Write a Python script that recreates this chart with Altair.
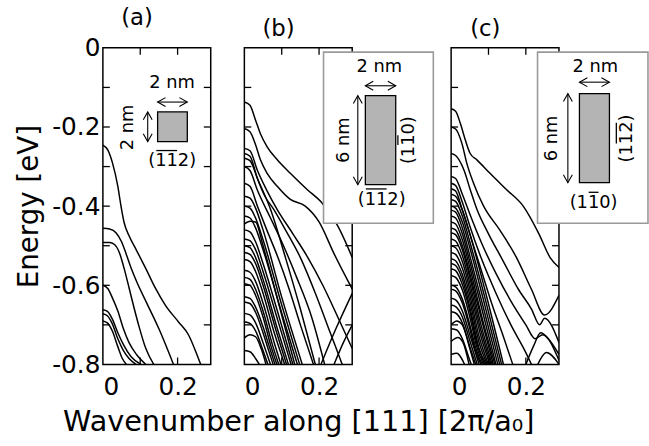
import altair as alt
import pandas as pd

XMAX = 0.2887
W, H = 109, 320
FONT = "DejaVu Sans"
PX = XMAX / W      # data units per pixel, x
PY = 0.8 / H       # data units per pixel, y
TICK = 7

# ---------------- band data (x [2pi/a0], E [eV]) ----------------
bands_a = [
    [(0, -0.246), (0.013, -0.258), (0.026, -0.292), (0.040, -0.35), (0.0485, -0.40), (0.057, -0.442),
     (0.070, -0.475), (0.088, -0.508), (0.115, -0.558), (0.141, -0.608), (0.167, -0.65), (0.202, -0.692),
     (0.229, -0.725), (0.255, -0.783), (0.262, -0.80)],
    [(0, -0.456), (0.018, -0.458), (0.035, -0.467), (0.05, -0.49), (0.062, -0.52), (0.075, -0.555),
     (0.09, -0.59), (0.12, -0.65), (0.15, -0.71), (0.189, -0.80)],
    [(0, -0.492), (0.018, -0.492), (0.031, -0.497), (0.044, -0.517), (0.057, -0.558), (0.0705, -0.608),
     (0.0837, -0.658), (0.097, -0.705), (0.115, -0.76), (0.136, -0.80)],
    [(0, -0.60), (0.013, -0.608), (0.026, -0.633), (0.04, -0.665), (0.055, -0.71), (0.07, -0.745),
     (0.09, -0.775), (0.115, -0.80)],
    [(0, -0.662), (0.012, -0.666), (0.025, -0.685), (0.04, -0.72), (0.055, -0.75), (0.075, -0.78), (0.102, -0.80)],
    [(0, -0.672), (0.012, -0.677), (0.025, -0.697), (0.04, -0.735), (0.055, -0.765), (0.07, -0.785), (0.089, -0.80)],
    [(0, -0.69), (0.012, -0.695), (0.025, -0.715), (0.04, -0.755), (0.052, -0.785), (0.063, -0.80)],
]

bands_b = [
    [(0, -0.137), (0.015, -0.145), (0.03, -0.183), (0.043, -0.217), (0.061, -0.25), (0.088, -0.283),
     (0.123, -0.317), (0.168, -0.358), (0.208, -0.392), (0.25, -0.45), (0.289, -0.53)],
    [(0, -0.204), (0.015, -0.212), (0.03, -0.245), (0.043, -0.283), (0.061, -0.317), (0.088, -0.35),
     (0.123, -0.383), (0.163, -0.40), (0.2, -0.44), (0.24, -0.52), (0.289, -0.61)],
    [(0, -0.254), (0.015, -0.26), (0.035, -0.31), (0.06, -0.36), (0.0876, -0.408), (0.13, -0.47),
     (0.17, -0.53), (0.21, -0.60), (0.25, -0.68), (0.289, -0.76)],
    [(0, -0.267), (0.015, -0.274), (0.035, -0.33), (0.055, -0.375), (0.0786, -0.408), (0.11, -0.46),
     (0.15, -0.53), (0.19, -0.62), (0.23, -0.72), (0.262, -0.80)],
    [(0, -0.279), (0.015, -0.285), (0.035, -0.33), (0.07, -0.408), (0.11, -0.53), (0.15, -0.66), (0.19, -0.80)],
    [(0, -0.30), (0.015, -0.31), (0.035, -0.36), (0.07, -0.43), (0.1, -0.49), (0.14, -0.58), (0.18, -0.68), (0.215, -0.80)],
    [(0, -0.342), (0.015, -0.35), (0.035, -0.40), (0.06, -0.46), (0.09, -0.53), (0.12, -0.61), (0.15, -0.70), (0.185, -0.80)],
    [(0, -0.375), (0.015, -0.38), (0.03, -0.405), (0.05, -0.46), (0.10, -0.63), (0.155, -0.80)],
    [(0, -0.40), (0.015, -0.405), (0.03, -0.43), (0.05, -0.485), (0.10, -0.65), (0.148, -0.80)],
    [(0, -0.425), (0.015, -0.43), (0.03, -0.455), (0.05, -0.51), (0.10, -0.67), (0.142, -0.80)],
    [(0, -0.445), (0.015, -0.438), (0.03, -0.44), (0.05, -0.50), (0.09, -0.64), (0.135, -0.80)],
    [(0, -0.46), (0.015, -0.465), (0.03, -0.49), (0.05, -0.545), (0.09, -0.67), (0.13, -0.80)],
    [(0, -0.483), (0.015, -0.487), (0.03, -0.51), (0.05, -0.565), (0.09, -0.69), (0.125, -0.80)],
    [(0, -0.50), (0.015, -0.505), (0.03, -0.53), (0.05, -0.585), (0.09, -0.715), (0.118, -0.80)],
    [(0, -0.517), (0.015, -0.522), (0.03, -0.545), (0.05, -0.60), (0.085, -0.715), (0.113, -0.80)],
    [(0, -0.535), (0.015, -0.54), (0.03, -0.565), (0.05, -0.62), (0.08, -0.72), (0.108, -0.80)],
    [(0, -0.562), (0.015, -0.567), (0.03, -0.59), (0.05, -0.645), (0.08, -0.745), (0.098, -0.80)],
    [(0, -0.58), (0.015, -0.585), (0.03, -0.61), (0.05, -0.665), (0.075, -0.75), (0.092, -0.80)],
    [(0, -0.596), (0.015, -0.60), (0.03, -0.625), (0.05, -0.68), (0.07, -0.75), (0.087, -0.80)],
    [(0, -0.629), (0.015, -0.633), (0.03, -0.655), (0.05, -0.705), (0.065, -0.75), (0.082, -0.80)],
    [(0, -0.642), (0.015, -0.646), (0.03, -0.668), (0.05, -0.72), (0.065, -0.765), (0.077, -0.80)],
    [(0, -0.671), (0.015, -0.675), (0.03, -0.695), (0.05, -0.745), (0.07, -0.80)],
    [(0, -0.692), (0.015, -0.696), (0.03, -0.715), (0.05, -0.765), (0.063, -0.80)],
    [(0, -0.733), (0.015, -0.725), (0.03, -0.73), (0.045, -0.76), (0.058, -0.80)],
    [(0, -0.765), (0.015, -0.768), (0.03, -0.785), (0.04, -0.80)],
    [(0.205, -0.80), (0.245, -0.71), (0.289, -0.62)],
    [(0.24, -0.80), (0.265, -0.745), (0.289, -0.70)],
]

bands_c = [
    [(0, -0.154), (0.012, -0.16), (0.025, -0.192), (0.038, -0.233), (0.051, -0.267), (0.069, -0.283),
     (0.104, -0.317), (0.148, -0.358), (0.193, -0.40), (0.235, -0.47), (0.265, -0.53), (0.289, -0.555)],
    [(0, -0.20), (0.012, -0.205), (0.029, -0.242), (0.042, -0.292), (0.06, -0.342), (0.087, -0.40),
     (0.13, -0.46), (0.175, -0.53), (0.215, -0.61), (0.25, -0.675), (0.289, -0.625)],
    [(0, -0.267), (0.012, -0.272), (0.034, -0.308), (0.051, -0.358), (0.069, -0.408), (0.10, -0.47),
     (0.14, -0.54), (0.18, -0.61), (0.215, -0.66), (0.237, -0.70), (0.25, -0.683), (0.289, -0.745)],
    [(0, -0.325), (0.012, -0.33), (0.03, -0.37), (0.05, -0.42), (0.08, -0.49), (0.12, -0.57), (0.16, -0.64),
     (0.2, -0.70), (0.225, -0.735), (0.245, -0.725), (0.289, -0.79)],
    [(0, -0.342), (0.012, -0.348), (0.03, -0.39), (0.05, -0.45), (0.08, -0.53), (0.12, -0.62), (0.16, -0.70),
     (0.2, -0.77), (0.215, -0.80)],
    [(0, -0.356), (0.012, -0.362), (0.03, -0.41), (0.05, -0.47), (0.08, -0.56), (0.11, -0.65), (0.14, -0.73),
     (0.165, -0.80)],
    [(0, -0.37), (0.012, -0.375), (0.03, -0.41), (0.05, -0.47), (0.09, -0.61), (0.14, -0.80)],
    [(0, -0.383), (0.012, -0.388), (0.03, -0.425), (0.05, -0.49), (0.09, -0.63), (0.135, -0.80)],
    [(0, -0.40), (0.012, -0.405), (0.03, -0.44), (0.05, -0.505), (0.09, -0.65), (0.13, -0.80)],
    [(0, -0.41), (0.012, -0.415), (0.03, -0.455), (0.05, -0.525), (0.09, -0.67), (0.125, -0.80)],
    [(0, -0.425), (0.012, -0.43), (0.03, -0.47), (0.05, -0.54), (0.085, -0.67), (0.12, -0.80)],
    [(0, -0.44), (0.012, -0.445), (0.03, -0.485), (0.05, -0.555), (0.085, -0.69), (0.117, -0.80)],
    [(0, -0.455), (0.012, -0.46), (0.03, -0.50), (0.05, -0.57), (0.085, -0.70), (0.113, -0.80)],
    [(0, -0.467), (0.012, -0.472), (0.03, -0.51), (0.05, -0.58), (0.08, -0.70), (0.11, -0.80)],
    [(0, -0.483), (0.012, -0.488), (0.03, -0.525), (0.05, -0.595), (0.08, -0.715), (0.107, -0.80)],
    [(0, -0.50), (0.012, -0.505), (0.03, -0.54), (0.05, -0.61), (0.08, -0.73), (0.104, -0.80)],
    [(0, -0.517), (0.012, -0.522), (0.03, -0.557), (0.05, -0.625), (0.075, -0.73), (0.1, -0.80)],
    [(0, -0.533), (0.012, -0.538), (0.03, -0.573), (0.05, -0.64), (0.075, -0.745), (0.097, -0.80)],
    [(0, -0.545), (0.012, -0.55), (0.03, -0.585), (0.05, -0.655), (0.075, -0.76), (0.094, -0.80)],
    [(0, -0.558), (0.012, -0.563), (0.03, -0.598), (0.05, -0.665), (0.07, -0.75), (0.09, -0.80)],
    [(0, -0.575), (0.012, -0.58), (0.03, -0.612), (0.05, -0.68), (0.07, -0.76), (0.087, -0.80)],
    [(0, -0.60), (0.012, -0.604), (0.03, -0.635), (0.05, -0.70), (0.068, -0.765), (0.083, -0.80)],
    [(0, -0.61), (0.012, -0.614), (0.03, -0.645), (0.05, -0.71), (0.065, -0.765), (0.08, -0.80)],
    [(0, -0.633), (0.012, -0.637), (0.03, -0.665), (0.05, -0.725), (0.075, -0.80)],
    [(0, -0.65), (0.012, -0.654), (0.03, -0.68), (0.05, -0.74), (0.07, -0.80)],
    [(0, -0.667), (0.012, -0.67), (0.03, -0.695), (0.05, -0.755), (0.066, -0.80)],
    [(0, -0.70), (0.015, -0.69), (0.03, -0.70), (0.05, -0.76), (0.062, -0.80)],
    [(0, -0.71), (0.015, -0.713), (0.03, -0.735), (0.05, -0.79), (0.054, -0.80)],
    [(0, -0.742), (0.018, -0.732), (0.032, -0.745), (0.048, -0.80)],
    [(0, -0.775), (0.015, -0.772), (0.028, -0.785), (0.036, -0.80)],
    [(0.20, -0.80), (0.22, -0.755), (0.24, -0.72), (0.26, -0.735), (0.289, -0.775)],
    [(0.232, -0.80), (0.255, -0.77), (0.289, -0.80)],
]

# ---------------- axis values ----------------
Y_LABELS = [0, -0.2, -0.4, -0.6, -0.8]
Y_TICKS = [-0.1, -0.2, -0.3, -0.4, -0.5, -0.6, -0.7]
X_LABELS = [0, 0.2]
X_TICKS = [0.1, 0.2]

# ---------------- inset annotations (data units) ----------------
inset_a = dict(
    box=None,
    gray=(0.1465, 0.2260, -0.1618, -0.2368),
    harrow=(0.1465, 0.2260, -0.137),
    varrow=(0.120, -0.1618, -0.2368),
    htext=[(0.1854, -0.089, "2 nm"), (0.1854, -0.287, "(112)")],
    vtext=[(0.0662, -0.2013, "2 nm")],
    hbar=[(0.1854, -0.287, -16, 5)],
    vbar=[],
)
inset_b = dict(
    box=(0.2119, 0.5059, -0.0108, -0.4433),
    gray=(0.3239, 0.4052, -0.1208, -0.3458),
    harrow=(0.3239, 0.4052, -0.0958),
    varrow=(0.3037, -0.1208, -0.3458),
    htext=[(0.361, -0.048, "2 nm"), (0.3676, -0.384, "(112)")],
    vtext=[(0.2670, -0.2333, "6 nm"), (0.4402, -0.2333, "(110)")],
    hbar=[(0.3676, -0.384, -16, 5)],
    vbar=[(0.4402, -0.2333, -5, 5)],
)
inset_c = dict(
    box=(0.2313, 0.527, -0.0108, -0.4433),
    gray=(0.3435, 0.4238, -0.1158, -0.3408),
    harrow=(0.3435, 0.4238, -0.0867),
    varrow=(0.3125, -0.1158, -0.3408),
    htext=[(0.3859, -0.048, "2 nm"), (0.3814, -0.3925, "(110)")],
    vtext=[(0.2702, -0.229, "6 nm"), (0.4714, -0.229, "(112)")],
    hbar=[(0.3814, -0.3925, -5, 5)],
    vbar=[(0.4714, -0.229, -16, 5)],
)
BAR_GAP = 11   # px of overline above text centre

HEAD_L = "M1.6,-0.9L0,0L1.6,0.9"
HEAD_R = "M-1.6,-0.9L0,0L-1.6,0.9"
HEAD_U = "M-0.9,1.6L0,0L0.9,1.6"
HEAD_D = "M-0.9,-1.6L0,0L0.9,-1.6"

XS = alt.Scale(domain=[0, XMAX], nice=False, zero=False)
YS = alt.Scale(domain=[-0.8, 0], nice=False, zero=False)


def to_df(bands):
    rows = []
    for i, pts in enumerate(bands):
        for x, e in pts:
            rows.append({"band": i, "x": x, "E": e})
    return pd.DataFrame(rows)


def panel(bands, label, inset, first=False, xtitle=None):
    df = to_df(bands)
    if first:
        yaxis = alt.Axis(orient="left", values=Y_LABELS, ticks=False, tickSize=0, domain=False, grid=False,
                         labelExpr="datum.value == 0 ? '0' : '-' + format(-datum.value, '.1f')",
                         labelFontSize=25, labelFont=FONT, labelColor="black", labelPadding=3,
                         title="Energy [eV]", titleFontSize=28, titleFont=FONT, titleFontWeight="normal",
                         titleColor="black", titlePadding=8)
    else:
        yaxis = None
    xaxis = alt.Axis(orient="bottom", values=X_LABELS, ticks=False, tickSize=0, domain=False, grid=False,
                     labelExpr="datum.value == 0 ? '0' : format(datum.value, '.1f')",
                     labelFontSize=25, labelFont=FONT, labelColor="black", labelPadding=10,
                     title=xtitle if xtitle else None, titleFontSize=29, titleFont=FONT,
                     titleFontWeight="normal", titleColor="black", titlePadding=9)

    # every layer carries the same axis definition so the shared axes merge cleanly
    def ex(f):
        return alt.X(f + ":Q", scale=XS, axis=xaxis)

    def ey(f):
        return alt.Y(f + ":Q", scale=YS, axis=yaxis)

    frame = alt.Chart(pd.DataFrame([{"x0": 0, "x1": XMAX, "y0": -0.8, "y1": 0}])).mark_rect(
        fill="white", fillOpacity=0, stroke="black", strokeWidth=1.5, clip=False).encode(
        x=ex("x0"), x2="x1", y=ey("y0"), y2="y1")
    yt = pd.DataFrame({"v": Y_TICKS})
    xt = pd.DataFrame({"v": X_TICKS})
    rule = dict(color="black", strokeWidth=1.3, clip=False)
    t_left = alt.Chart(yt).mark_rule(**rule).encode(y=ey("v"), x=alt.value(0), x2=alt.value(TICK))
    t_right = alt.Chart(yt).mark_rule(**rule).encode(y=ey("v"), x=alt.value(W - TICK), x2=alt.value(W))
    t_top = alt.Chart(xt).mark_rule(**rule).encode(x=ex("v"), y=alt.value(0), y2=alt.value(TICK))
    t_bottom = alt.Chart(xt).mark_rule(**rule).encode(x=ex("v"), y=alt.value(H - TICK), y2=alt.value(H))

    lines = alt.Chart(df).mark_line(color="black", strokeWidth=1.5, clip=True, interpolate="monotone").encode(
        x=ex("x"), y=ey("E"), detail="band:N")

    layers = [frame, t_left, t_right, t_top, t_bottom, lines]

    if inset["box"]:
        x0, x1, y0, y1 = inset["box"]
        layers.append(alt.Chart(pd.DataFrame([{"x0": x0, "x1": x1, "y0": y0, "y1": y1}])).mark_rect(
            fill="white", stroke="#9a9a9a", strokeWidth=1.6, clip=False).encode(
            x=ex("x0"), x2="x1", y=ey("y0"), y2="y1"))
    gx0, gx1, gy0, gy1 = inset["gray"]
    layers.append(alt.Chart(pd.DataFrame([{"x0": gx0, "x1": gx1, "y0": gy0, "y1": gy1}])).mark_rect(
        fill="#b4b4b4", stroke="black", strokeWidth=1.3, clip=False).encode(
        x=ex("x0"), x2="x1", y=ey("y0"), y2="y1"))

    hx0, hx1, hy = inset["harrow"]
    vx, vy0, vy1 = inset["varrow"]
    segs = [{"x0": hx0, "x1": hx1, "y0": hy, "y1": hy},
            {"x0": vx, "x1": vx, "y0": vy0, "y1": vy1}]
    layers.append(alt.Chart(pd.DataFrame(segs)).mark_rule(color="black", strokeWidth=1.1, clip=False).encode(
        x=ex("x0"), x2="x1", y=ey("y0"), y2="y1"))

    # overlines for Miller indices
    bars = []
    for cx, cy, a, b in inset["hbar"]:
        yb = cy + BAR_GAP * PY
        bars.append({"x0": cx + a * PX, "x1": cx + b * PX, "y0": yb, "y1": yb})
    for cx, cy, a, b in inset["vbar"]:
        xb = cx - BAR_GAP * PX
        bars.append({"x0": xb, "x1": xb, "y0": cy - a * PY, "y1": cy - b * PY})
    layers.append(alt.Chart(pd.DataFrame(bars)).mark_rule(color="black", strokeWidth=1.3, clip=False).encode(
        x=ex("x0"), x2="x1", y=ey("y0"), y2="y1"))

    heads = pd.DataFrame([
        {"x": hx0, "y": hy, "s": HEAD_L}, {"x": hx1, "y": hy, "s": HEAD_R},
        {"x": vx, "y": vy0, "s": HEAD_U}, {"x": vx, "y": vy1, "s": HEAD_D},
    ])
    layers.append(alt.Chart(heads).mark_point(filled=False, color="black", strokeWidth=1.1, size=100,
                                              opacity=1, clip=False).encode(
        x=ex("x"), y=ey("y"), shape=alt.Shape("s:N", scale=None)))
    ht = pd.DataFrame([{"x": a, "y": b, "t": c} for a, b, c in inset["htext"]])
    layers.append(alt.Chart(ht).mark_text(font=FONT, fontSize=18, color="black", align="center",
                                          baseline="middle", clip=False).encode(
        x=ex("x"), y=ey("y"), text="t:N"))
    vt = pd.DataFrame([{"x": a, "y": b, "t": c} for a, b, c in inset["vtext"]])
    layers.append(alt.Chart(vt).mark_text(font=FONT, fontSize=18, color="black", align="center",
                                          baseline="middle", angle=270, clip=False).encode(
        x=ex("x"), y=ey("y"), text="t:N"))

    return alt.layer(*layers).properties(
        width=W, height=H,
        title=alt.TitleParams(text=label, fontSize=23, font=FONT, fontWeight="normal", color="black",
                              anchor="middle", dx=-20, offset=6),
    )


pa = panel(bands_a, "(a)", inset_a, first=True)
pb = panel(bands_b, "(b)", inset_b, xtitle="Wavenumber along [111] [2\u03c0/a\u2080]")
pc = panel(bands_c, "(c)", inset_c)

inner = alt.hconcat(pb, pc, spacing=100, bounds="flush")
chart = alt.hconcat(pa, inner, spacing=34, bounds="flush").properties(
    padding={"left": 16, "top": 5, "right": 0, "bottom": 0},
    background="white",
).configure_view(stroke=None)

chart.save("out.html", embed_options={"renderer": "svg", "actions": False})
